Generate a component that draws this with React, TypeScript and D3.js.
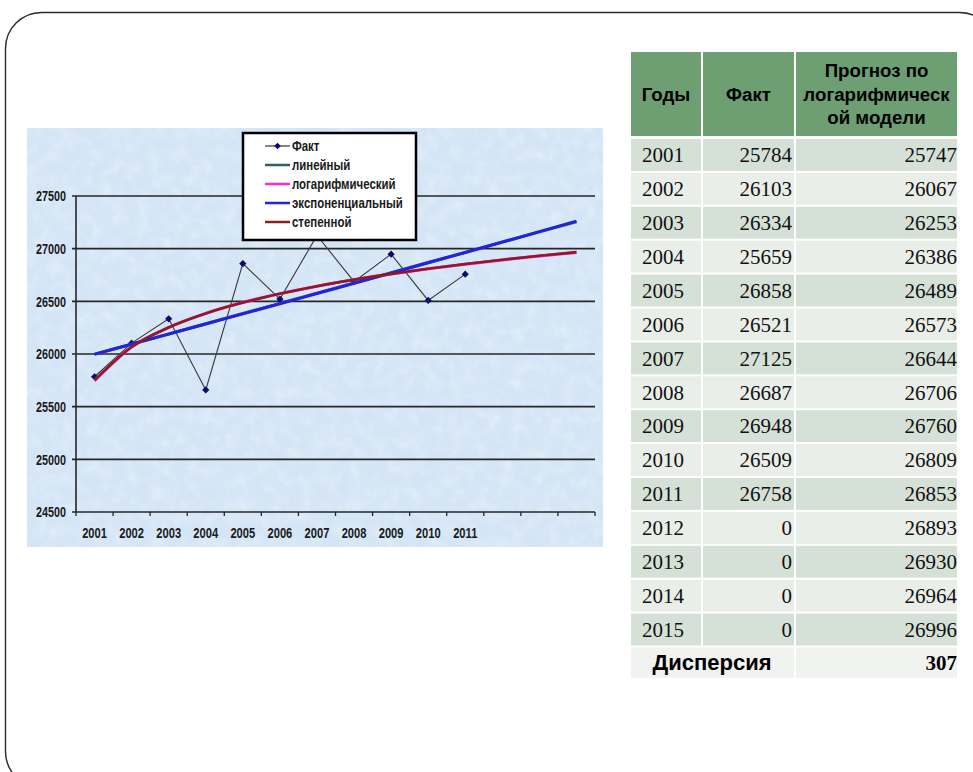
import React from "react";
import * as d3 from "d3";

// ---- data ----
const years = [2001, 2002, 2003, 2004, 2005, 2006, 2007, 2008, 2009, 2010, 2011, 2012, 2013, 2014];
const xTickLabels = ["2001", "2002", "2003", "2004", "2005", "2006", "2007", "2008", "2009", "2010", "2011"];
const factValues = [25784, 26103, 26334, 25659, 26858, 26521, 27125, 26687, 26948, 26509, 26758];
const linearTrend = [25996, 26093, 26190, 26287, 26384, 26481, 26578, 26674, 26771, 26868, 26965, 27062, 27159, 27256];
const logTrend = [25747, 26067, 26253, 26386, 26489, 26573, 26644, 26706, 26760, 26809, 26853, 26893, 26930, 26964];
const expTrend = [25999, 26094, 26189, 26285, 26381, 26477, 26574, 26671, 26768, 26866, 26964, 27063, 27162, 27261];
const powerTrend = [25750, 26066, 26252, 26385, 26488, 26572, 26644, 26706, 26761, 26810, 26854, 26895, 26932, 26967];
const yTicks = [24500, 25000, 25500, 26000, 26500, 27000, 27500];
const legendLabels = ["Факт", "линейный", "логарифмический", "экспоненциальный", "степенной"];

const tableHeaders = ["Годы", "Факт", "Прогноз по|логарифмическ|ой модели"];
const tableYears = [2001, 2002, 2003, 2004, 2005, 2006, 2007, 2008, 2009, 2010, 2011, 2012, 2013, 2014, 2015];
const tableFact = [25784, 26103, 26334, 25659, 26858, 26521, 27125, 26687, 26948, 26509, 26758, 0, 0, 0, 0];
const tableForecast = [25747, 26067, 26253, 26386, 26489, 26573, 26644, 26706, 26760, 26809, 26853, 26893, 26930, 26964, 26996];
const dispersionLabel = "Дисперсия";
const dispersionValue = 307;

// ---- styles ----
const SANS = "'Liberation Sans', Arial, sans-serif";
const SERIF = "'Liberation Serif', 'Times New Roman', serif";
const trendColors = { linear: "#2e6262", log: "#ff2ad4", exp: "#2222e0", power: "#8c1c24" };

function NText(props: {
  x: number;
  y: number;
  anchor?: "start" | "middle" | "end";
  size?: number;
  sx?: number;
  children: React.ReactNode;
}) {
  const { x, y, anchor = "start", size = 15, sx = 0.72, children } = props;
  return (
    <g transform={`translate(${x},${y}) scale(${sx},1)`}>
      <text
        x={0}
        y={0}
        dy="0.35em"
        textAnchor={anchor}
        fontFamily={SANS}
        fontWeight="bold"
        fontSize={size}
        fill="#1a1a1a"
      >
        {children}
      </text>
    </g>
  );
}

export default function App() {
  // chart geometry
  const plotL = 76, plotR = 595, plotT = 196, plotB = 512;
  const x = d3.scaleBand<number>().domain(years).range([plotL, plotR]);
  const cx = (yr: number) => (x(yr) as number) + x.bandwidth() / 2;
  const y = d3.scaleLinear().domain([24500, 27500]).range([plotB, plotT]);

  const line = (vals: number[]) =>
    d3.line<number>().x((_, i) => cx(years[i])).y((v) => y(v)).curve(d3.curveMonotoneX)(vals) as string;
  const factLine = d3.line<number>().x((_, i) => cx(years[i])).y((v) => y(v))(factValues) as string;

  const diamond = (px: number, py: number, r = 3.6) =>
    `M${px},${py - r}L${px + r},${py}L${px},${py + r}L${px - r},${py}Z`;

  const tickXs = years.map((yr) => x(yr) as number).concat([plotR]);

  // legend
  const lgX = 243, lgY = 133, lgW = 173, lgH = 107;
  const lgRowY = (i: number) => 146 + i * 19;
  const legendStyles = [
    { color: "#333", w: 1.2, marker: true },
    { color: trendColors.linear, w: 2.5, marker: false },
    { color: trendColors.log, w: 2.5, marker: false },
    { color: trendColors.exp, w: 2.5, marker: false },
    { color: trendColors.power, w: 2.5, marker: false },
  ];

  // table geometry
  const colX = [631, 702, 795, 958];
  const headT = 52, headB = 136;
  const rowH = 33.9;
  const rowT = (i: number) => 139 + i * rowH;
  const rowColors = ["#d5e1d7", "#e9eee9"];
  const lastT = rowT(tableYears.length);
  const lastB = 678;

  return (
    <div style={{ position: "absolute", left: 0, top: 0 }}>
      <svg width={973} height={772} style={{ display: "block", background: "#fff" }}>
        <defs>
          <filter id="tex" x="0" y="0" width="100%" height="100%">
            <feTurbulence type="fractalNoise" baseFrequency="0.08" numOctaves="3" seed="3" result="n" />
            <feColorMatrix
              type="matrix"
              values="0 0 0 0 1  0 0 0 0 1  0 0 0 0 1  0 0 0 0.9 -0.35"
            />
          </filter>
        </defs>
        {/* slide frame */}
        <rect x={5.5} y={12.5} width={990} height={775} rx={36} ry={36} fill="none" stroke="#2a2a2a" strokeWidth={1.4} />

        {/* chart background */}
        <rect x={27} y={128} width={576} height={419} fill="#d4e5f6" />
        <rect x={27} y={128} width={576} height={419} filter="url(#tex)" opacity={0.65} />

        {/* gridlines */}
        {yTicks.map((t) => (
          <g key={t}>
            <line x1={plotL - 4} x2={plotR} y1={y(t)} y2={y(t)} stroke="#262626" strokeWidth={1.6} />
            <NText x={66} y={y(t)} anchor="end" size={15} sx={0.72}>
              {t}
            </NText>
          </g>
        ))}
        {/* axes */}
        <line x1={plotL} x2={plotL} y1={plotT} y2={plotB} stroke="#262626" strokeWidth={1.6} />
        {tickXs.map((tx, i) => (
          <line key={i} x1={tx} x2={tx} y1={plotB} y2={plotB + 4} stroke="#262626" strokeWidth={1.3} />
        ))}
        {xTickLabels.map((lab, i) => (
          <NText key={lab} x={cx(years[i])} y={533} anchor="middle" size={15.5} sx={0.72}>
            {lab}
          </NText>
        ))}

        {/* fact series */}
        <path d={factLine} fill="none" stroke="#3a3a3a" strokeWidth={1.1} />
        {factValues.map((v, i) => (
          <path key={i} d={diamond(cx(years[i]), y(v))} fill="#0c0c6e" />
        ))}

        {/* trend lines */}
        <path d={line(linearTrend)} fill="none" stroke={trendColors.linear} strokeWidth={3} />
        <path d={line(logTrend)} fill="none" stroke={trendColors.log} strokeWidth={3} />
        <path d={line(expTrend)} fill="none" stroke={trendColors.exp} strokeWidth={3} />
        <path d={line(powerTrend)} fill="none" stroke={trendColors.power} strokeWidth={2.6} />

        {/* legend */}
        <rect x={lgX} y={lgY} width={lgW} height={lgH} fill="#fff" stroke="#000" strokeWidth={2.5} />
        {legendLabels.map((lab, i) => {
          const st = legendStyles[i];
          const ry = lgRowY(i);
          return (
            <g key={lab}>
              <line x1={265} x2={290} y1={ry} y2={ry} stroke={st.color} strokeWidth={st.w} />
              {st.marker && <path d={diamond(277.5, ry, 3.3)} fill="#0c0c6e" />}
              <NText x={292} y={ry} size={14.5} sx={0.79}>
                {lab}
              </NText>
            </g>
          );
        })}

        {/* table header */}
        {tableHeaders.map((h, c) => {
          const x0 = colX[c] + (c === 0 ? 0 : 1);
          const x1 = colX[c + 1] - 1;
          const lines = h.split("|");
          const mid = (headT + headB) / 2;
          return (
            <g key={c}>
              <rect x={x0} y={headT} width={x1 - x0} height={headB - headT} fill="#6e9f72" />
              {lines.map((ln, k) => (
                <text
                  key={k}
                  x={(x0 + x1) / 2}
                  y={mid + (k - (lines.length - 1) / 2) * 23.5}
                  dy="0.35em"
                  textAnchor="middle"
                  fontFamily={SANS}
                  fontWeight="bold"
                  fontSize={18.7}
                  fill="#000"
                >
                  {ln}
                </text>
              ))}
            </g>
          );
        })}

        {/* table rows */}
        {tableYears.map((yr, r) => {
          const t = rowT(r);
          const fill = rowColors[r % 2];
          const cy = t + rowH / 2;
          return (
            <g key={yr}>
              {[0, 1, 2].map((c) => {
                const x0 = colX[c] + (c === 0 ? 0 : 1);
                const x1 = colX[c + 1] - 1;
                return <rect key={c} x={x0} y={t} width={x1 - x0} height={rowH - 2} fill={fill} />;
              })}
              <text x={642} y={cy} dy="0.3em" fontFamily={SERIF} fontSize={21} fill="#111">
                {yr}
              </text>
              <text x={792} y={cy} dy="0.3em" textAnchor="end" fontFamily={SERIF} fontSize={21} fill="#111">
                {tableFact[r]}
              </text>
              <text x={957} y={cy} dy="0.3em" textAnchor="end" fontFamily={SERIF} fontSize={21} fill="#111">
                {tableForecast[r]}
              </text>
            </g>
          );
        })}
        {/* dispersion row */}
        <rect x={colX[0]} y={lastT} width={colX[2] - 1 - colX[0]} height={lastB - lastT} fill="#f0f3f0" />
        <rect x={colX[2] + 1} y={lastT} width={colX[3] - 1 - colX[2] - 1} height={lastB - lastT} fill="#f0f3f0" />
        <text
          x={712}
          y={(lastT + lastB) / 2}
          dy="0.35em"
          textAnchor="middle"
          fontFamily={SANS}
          fontWeight="bold"
          fontSize={22}
          fill="#000"
        >
          {dispersionLabel}
        </text>
        <text
          x={957}
          y={(lastT + lastB) / 2}
          dy="0.35em"
          textAnchor="end"
          fontFamily={SERIF}
          fontWeight="bold"
          fontSize={21}
          fill="#000"
        >
          {dispersionValue}
        </text>
      </svg>
    </div>
  );
}
